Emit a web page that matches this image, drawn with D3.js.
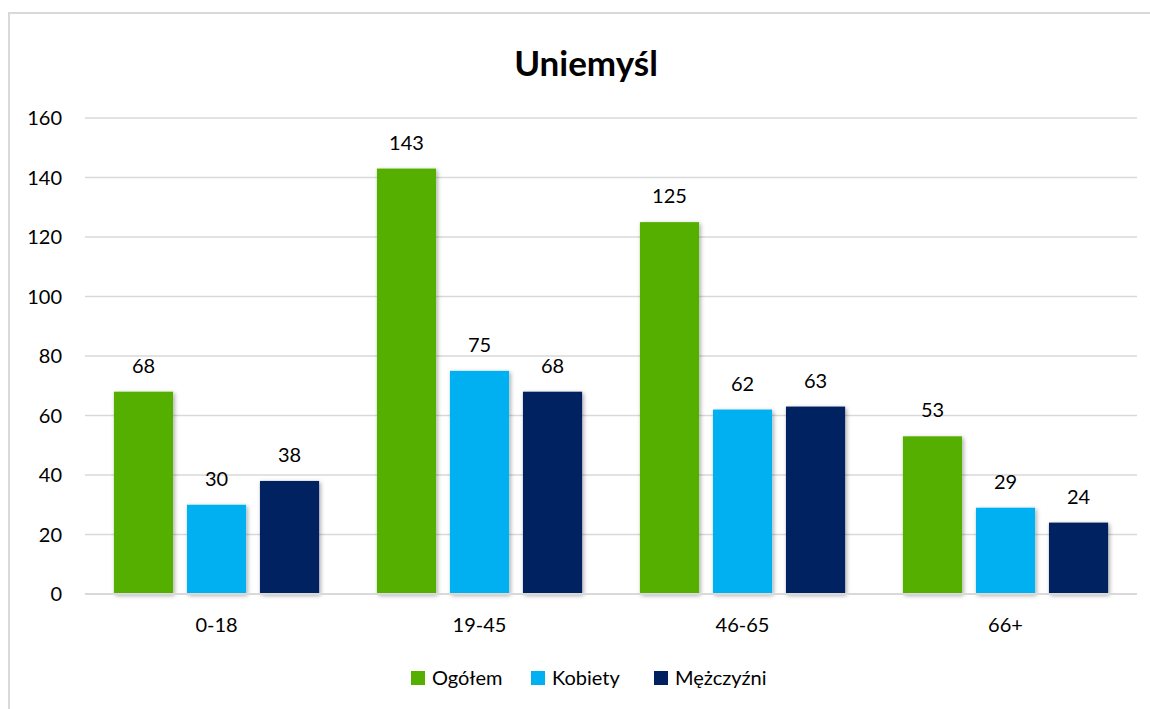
<!DOCTYPE html>
<html>
<head>
<meta charset="utf-8">
<script src="https://cdn.jsdelivr.net/npm/d3@7/dist/d3.min.js"></script>
<style>
  html, body { margin: 0; padding: 0; background: #fff; }
  svg text { font-family: Lato, "Open Sans", sans-serif; fill: #000; }
</style>
</head>
<body>
<svg id="chart" width="1150" height="709"></svg>
<script>
const title = "Uniemyśl";
const categories = ["0-18", "19-45", "46-65", "66+"];
const seriesNames = ["Ogółem", "Kobiety", "Mężczyźni"];
const ogolem = [68, 143, 125, 53];
const kobiety = [30, 75, 62, 29];
const mezczyzni = [38, 68, 63, 24];
const seriesColors = ["#55AF00", "#00B0F0", "#002060"];
const yTicks = [0, 20, 40, 60, 80, 100, 120, 140, 160];

const seriesValues = [ogolem, kobiety, mezczyzni];
const data = categories.map((c, i) => ({
  cat: c,
  vals: seriesNames.map((s, j) => ({ series: s, value: seriesValues[j][i], color: seriesColors[j] }))
}));

const svg = d3.select("#chart");
const W = 1150, H = 709;
const plot = { left: 85, right: 1137, top: 118, bottom: 594 };

// chart border
svg.append("rect").attr("x", 9).attr("y", 13).attr("width", W + 10).attr("height", H + 10)
  .attr("fill", "none").attr("stroke", "#d9d9d9").attr("stroke-width", 2);

const defs = svg.append("defs");
const f = defs.append("filter").attr("id", "shadow").attr("x", "-20%").attr("y", "-20%").attr("width", "140%").attr("height", "140%");
f.append("feDropShadow").attr("dx", 1.5).attr("dy", 1.5).attr("stdDeviation", 2)
  .attr("flood-color", "#000").attr("flood-opacity", 0.35);

const y = d3.scaleLinear().domain([0, 160]).range([plot.bottom, plot.top]);
const x0 = d3.scaleBand().domain(categories).range([plot.left, plot.right]).padding(0);
const x1 = d3.scaleBand().domain(seriesNames).range([0, x0.bandwidth()])
  .paddingInner(0.19).paddingOuter(0.396);

// gridlines
svg.append("g").selectAll("line").data(yTicks).join("line")
  .attr("x1", plot.left).attr("x2", plot.right)
  .attr("y1", d => y(d)).attr("y2", d => y(d))
  .attr("stroke", "#d9d9d9").attr("stroke-width", 1.5);

// y labels
svg.append("g").selectAll("text").data(yTicks).join("text")
  .attr("x", 62).attr("y", d => y(d)).attr("dy", "0.36em")
  .attr("text-anchor", "end").attr("font-size", 20).text(d => d);

// bars
const groups = svg.append("g").selectAll("g").data(data).join("g")
  .attr("transform", d => `translate(${x0(d.cat)},0)`);
groups.selectAll("rect").data(d => d.vals).join("rect")
  .attr("x", d => x1(d.series)).attr("width", x1.bandwidth())
  .attr("y", d => y(d.value)).attr("height", d => y(0) - y(d.value))
  .attr("fill", d => d.color).attr("filter", "url(#shadow)");
groups.selectAll("text").data(d => d.vals).join("text")
  .attr("x", d => x1(d.series) + x1.bandwidth() / 2)
  .attr("y", d => y(d.value) - 19)
  .attr("text-anchor", "middle").attr("font-size", 20).text(d => d.value);

// baseline
svg.append("line").attr("x1", plot.left).attr("x2", plot.right)
  .attr("y1", y(0)).attr("y2", y(0)).attr("stroke", "#d9d9d9").attr("stroke-width", 2);

// x labels
svg.append("g").selectAll("text").data(categories).join("text")
  .attr("x", d => x0(d) + x0.bandwidth() / 2).attr("y", 632)
  .attr("text-anchor", "middle").attr("font-size", 20).text(d => d);

// title
svg.append("text").attr("x", 586).attr("y", 76).attr("text-anchor", "middle")
  .attr("font-size", 35).attr("font-weight", "bold").text(title);

// legend
const legendX = [411, 531, 654];
const lg = svg.append("g").selectAll("g").data(seriesNames).join("g")
  .attr("transform", (d, i) => `translate(${legendX[i]},671)`);
lg.append("rect").attr("width", 14).attr("height", 14).attr("fill", (d, i) => seriesColors[i]);
lg.append("text").attr("x", 21).attr("y", 14).attr("font-size", 20).text(d => d);
</script>
</body>
</html>
